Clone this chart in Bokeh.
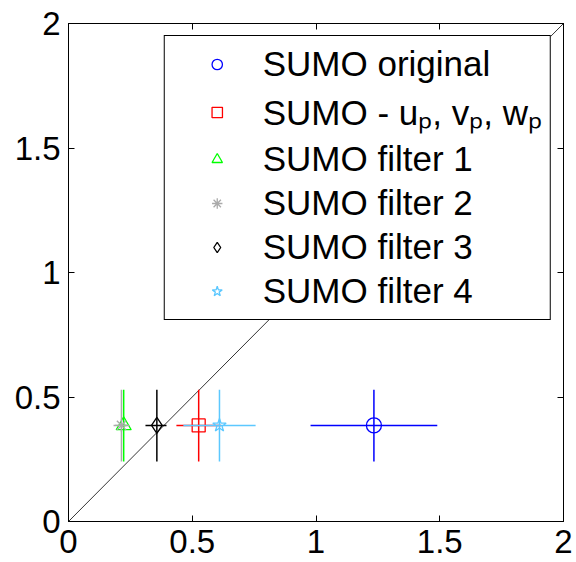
from bokeh.plotting import figure
from bokeh.models import Range1d, LinearAxis, Legend, LegendItem, FixedTicker
from bokeh.embed import file_html
from bokeh.resources import INLINE

# ---- data ----
series_names = ["SUMO original", "SUMO - uₚ, vₚ, wₚ", "SUMO filter 1",
                "SUMO filter 2", "SUMO filter 3", "SUMO filter 4"]
x_vals = [1.234, 0.526, 0.223, 0.214, 0.357, 0.610]
x_low = [0.978, 0.436, 0.212, 0.182, 0.311, 0.464]
x_high = [1.490, 0.616, 0.234, 0.246, 0.396, 0.756]
y_vals = [0.386, 0.386, 0.386, 0.386, 0.386, 0.386]
y_low = [0.241, 0.241, 0.241, 0.241, 0.241, 0.241]
y_high = [0.529, 0.529, 0.529, 0.529, 0.529, 0.529]
diag_x = [0, 2]
diag_y = [0, 2]
ticks = [0, 0.5, 1, 1.5, 2]

colors = ["#0000ff", "#ff0000", "#00ff00", "#aaaaaa", "#000000", "#5cc8ff"]
markers = ["circle", "square", "triangle", "asterisk", "diamond", "star"]
sizes = [15, 13, 15, 13, 16, 14]

FONT = "Liberation Sans"

p = figure(width=576, height=562, output_backend="svg", toolbar_location=None,
           x_range=Range1d(0, 2), y_range=Range1d(0, 2),
           min_border_left=68, min_border_right=13, min_border_top=23, min_border_bottom=41,
           x_axis_location=None, y_axis_location=None)
p.grid.visible = False
p.outline_line_color = "black"
p.outline_line_alpha = 1.0
p.background_fill_color = "white"
p.border_fill_color = "white"

def make_axis(show_labels):
    ax = LinearAxis(ticker=FixedTicker(ticks=ticks))
    ax.major_tick_in = 6
    ax.major_tick_out = 0
    ax.minor_tick_line_color = None
    ax.axis_line_color = "black"
    ax.major_tick_line_color = "black"
    ax.major_label_text_font = FONT
    ax.major_label_text_font_size = "33px" if show_labels else "0px"
    ax.major_label_text_color = "black" if show_labels else None
    ax.major_label_standoff = 8 if show_labels else 0
    return ax

p.add_layout(make_axis(True), "below")
p.add_layout(make_axis(True), "left")
p.add_layout(make_axis(False), "above")
p.add_layout(make_axis(False), "right")

# diagonal reference line
p.line(diag_x, diag_y, line_color="black", line_width=0.8)

items = []
for i in range(len(series_names)):
    c = colors[i]
    p.segment(x0=[x_low[i]], y0=[y_vals[i]], x1=[x_high[i]], y1=[y_vals[i]],
              line_color=c, line_width=1.5)
    p.segment(x0=[x_vals[i]], y0=[y_low[i]], x1=[x_vals[i]], y1=[y_high[i]],
              line_color=c, line_width=1.5)
    r = p.scatter(x=[x_vals[i]], y=[y_vals[i]], marker=markers[i], size=sizes[i],
                  line_color=c, fill_color=None, line_width=1.3)
    items.append(LegendItem(label=series_names[i], renderers=[r]))

legend = Legend(items=items, location="top_right", margin=12, padding=8,
                glyph_width=88, glyph_height=26, label_standoff=2, spacing=4,
                label_text_font=FONT, label_text_font_size="35px",
                label_text_color="black",
                border_line_color="black", border_line_width=1, border_line_alpha=1.0,
                background_fill_color="white", background_fill_alpha=1.0)
p.add_layout(legend, "center")

open("out.html", "w").write(file_html(p, INLINE))
